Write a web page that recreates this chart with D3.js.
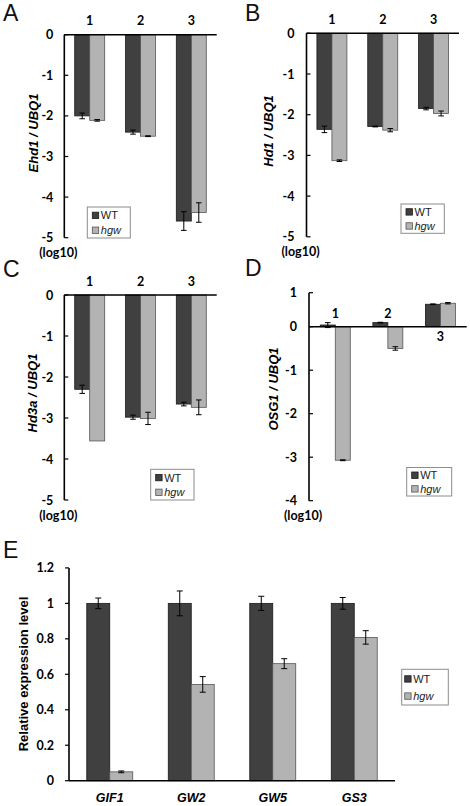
<!DOCTYPE html>
<html><head><meta charset="utf-8">
<script src="https://cdn.jsdelivr.net/npm/d3@7"></script>
<style>body{margin:0;background:#fff}svg{display:block}</style>
</head><body>
<script>
// ---------- data ----------
const timePoints = ["1", "2", "3"];
const ehd1WT = [-2.00, -2.40, -4.59];
const ehd1WTErr = [0.07, 0.05, 0.23];
const ehd1Hgw = [-2.11, -2.50, -4.38];
const ehd1HgwErr = [0.02, 0.01, 0.24];
const hd1WT = [-2.36, -2.29, -1.85];
const hd1WTErr = [0.08, 0.01, 0.03];
const hd1Hgw = [-3.13, -2.38, -1.97];
const hd1HgwErr = [0.02, 0.04, 0.06];
const hd3aWT = [-2.30, -2.98, -2.66];
const hd3aWTErr = [0.10, 0.05, 0.045];
const hd3aHgw = [-3.56, -3.01, -2.74];
const hd3aHgwErr = [0.00, 0.15, 0.18];
const osg1WT = [0.05, 0.12, 0.66];
const osg1WTErr = [0.07, 0.01, 0.01];
const osg1Hgw = [-3.07, -0.50, 0.69];
const osg1HgwErr = [0.01, 0.04, 0.02];
const logTicks = [0, -1, -2, -3, -4, -5];
const osgTicks = [1, 0, -1, -2, -3, -4];
const genes = ["GIF1", "GW2", "GW5", "GS3"];
const geneWT = [1, 1, 1, 1];
const geneWTErr = [0.03, 0.07, 0.04, 0.033];
const geneHgw = [0.05, 0.543, 0.66, 0.808];
const geneHgwErr = [0.005, 0.044, 0.028, 0.038];
const relTicks = [0, 0.2, 0.4, 0.6, 0.8, 1, 1.2];
const seriesNames = ["WT", "hgw"];

// ---------- style ----------
const fill = ["#404040", "#b3b3b3"];
const stroke = ["#1a1a1a", "#555555"];
const numFont = "Lato, 'Open Sans', sans-serif";
const arial = "'Liberation Sans', Arial, sans-serif";

const svg = d3.select("body").append("svg").attr("width", 470).attr("height", 806);

function drawPanel(p) {
  const g = svg.append("g");
  const x = d3.scaleBand().domain(p.cats).range([p.ax, p.axEnd]);
  const y = p.y;
  const bw = x.bandwidth() * p.barFrac;
  const rows = [];
  p.cats.forEach((c, i) => {
    rows.push({cat: c, s: 0, v: p.wt[i], e: p.wtErr[i]});
    rows.push({cat: c, s: 1, v: p.hgw[i], e: p.hgwErr[i]});
  });
  const cx = c => x(c) + x.bandwidth() / 2;
  const bx = d => cx(d.cat) + (d.s === 0 ? -bw : 0);

  g.selectAll("rect.bar").data(rows).join("rect").attr("class", "bar")
    .attr("x", d => bx(d)).attr("width", bw)
    .attr("y", d => Math.min(y(0), y(d.v)))
    .attr("height", d => Math.abs(y(d.v) - y(0)))
    .attr("fill", d => fill[d.s]).attr("stroke", d => stroke[d.s]).attr("stroke-width", 0.8);

  // error bars
  const eb = g.selectAll("g.err").data(rows.filter(d => d.e > 0)).join("g").attr("class", "err")
    .attr("stroke", "#000").attr("stroke-width", 1);
  eb.append("line").attr("x1", d => bx(d) + bw / 2).attr("x2", d => bx(d) + bw / 2)
    .attr("y1", d => y(d.v - d.e)).attr("y2", d => y(d.v + d.e));
  [-1, 1].forEach(k => {
    eb.append("line").attr("x1", d => bx(d) + bw / 2 - p.cap).attr("x2", d => bx(d) + bw / 2 + p.cap)
      .attr("y1", d => y(d.v + k * d.e)).attr("y2", d => y(d.v + k * d.e));
  });

  // axes
  const [dmin, dmax] = d3.extent(p.ticks);
  g.append("line").attr("x1", p.ax).attr("x2", p.ax).attr("y1", y(dmax)).attr("y2", y(dmin))
    .attr("stroke", "#000").attr("stroke-width", 1.6);
  g.append("line").attr("x1", p.ax).attr("x2", p.axEnd).attr("y1", y(0)).attr("y2", y(0))
    .attr("stroke", "#000").attr("stroke-width", 1.6);
  g.selectAll("line.tick").data(p.ticks).join("line").attr("class", "tick")
    .attr("x1", p.ax).attr("x2", p.ax + p.tickDir * 4)
    .attr("y1", d => y(d)).attr("y2", d => y(d)).attr("stroke", "#000").attr("stroke-width", 1.2);
  g.selectAll("text.tl").data(p.ticks).join("text").attr("class", "tl")
    .attr("x", p.ax - p.labelGap).attr("y", d => y(d)).attr("dy", "0.36em")
    .attr("text-anchor", "end").attr("font-family", numFont).attr("font-weight", "bold")
    .attr("font-size", p.tickSize).text(d => p.fmt(d));

  // category labels
  g.selectAll("text.cat").data(p.cats).join("text").attr("class", "cat")
    .attr("x", c => cx(c))
    .attr("y", (c, i) => p.catY(i, y))
    .attr("dy", "0.36em").attr("text-anchor", "middle")
    .attr("font-family", p.catFont).attr("font-weight", "bold")
    .attr("font-style", p.catItalic ? "italic" : "normal")
    .attr("font-size", p.catSize).text(c => c);

  // y title
  g.append("text").attr("transform", `translate(${p.titleX},${p.titleY}) rotate(-90)`)
    .attr("text-anchor", "middle").attr("dy", "0.36em")
    .attr("font-family", arial).attr("font-weight", "bold")
    .attr("font-style", p.titleItalic ? "italic" : "normal")
    .attr("font-size", p.titleSize).text(p.title);

  if (p.logLabel) {
    g.append("text").attr("x", p.ax - 6).attr("y", y(dmin) + 15).attr("dy", "0.36em")
      .attr("text-anchor", "middle").attr("font-family", numFont).attr("font-weight", "bold")
      .attr("font-size", 12.5).text("(log10)");
  }

  // legend
  const L = p.legend;
  const lg = g.append("g");
  lg.append("rect").attr("x", L.x).attr("y", L.y).attr("width", L.w).attr("height", L.h)
    .attr("fill", "#fff").attr("stroke", "#8c8c8c").attr("stroke-width", 1);
  seriesNames.forEach((n, i) => {
    const ry = L.y + L.h * (i === 0 ? 0.27 : 0.75);
    lg.append("rect").attr("x", L.x + L.sw).attr("y", ry - 3.2).attr("width", 6.4).attr("height", 6.4)
      .attr("fill", fill[i]).attr("stroke", stroke[i]).attr("stroke-width", 0.8);
    lg.append("text").attr("x", L.x + L.sw + 8.5).attr("y", ry).attr("dy", "0.36em")
      .attr("font-family", arial).attr("font-size", 11)
      .attr("font-style", i === 1 ? "italic" : "normal").attr("fill", "#222").text(n);
  });

  // panel letter
  svg.append("text").attr("x", p.letter[1]).attr("y", p.letter[2])
    .attr("font-family", arial).attr("font-size", 23).attr("fill", "#111").text(p.letter[0]);
}

const logFmt = d => d === 0 ? "0" : String(d);
const aboveBelow = (wt, hgw) => (i, y) =>
  Math.min(wt[i], hgw[i]) < 0 ? y(0) - 13 : y(0) + 10;

drawPanel({
  cats: timePoints, wt: ehd1WT, wtErr: ehd1WTErr, hgw: ehd1Hgw, hgwErr: ehd1HgwErr,
  ax: 64.3, axEnd: 216.7, y: d3.scaleLinear().domain([-5, 0]).range([237.7, 34.7]),
  barFrac: 0.295, cap: 2.8, ticks: logTicks, fmt: logFmt, tickDir: 1, labelGap: 11, tickSize: 12.5,
  catY: (i, y) => y(0) - 14, catFont: numFont, catSize: 12.5, catItalic: false,
  title: "Ehd1 / UBQ1", titleItalic: true, titleSize: 13, titleX: 33, titleY: 133,
  logLabel: true, legend: {x: 87.3, y: 207, w: 43, h: 31, sw: 5}, letter: ["A", 3, 21]
});
drawPanel({
  cats: timePoints, wt: hd1WT, wtErr: hd1WTErr, hgw: hd1Hgw, hgwErr: hd1HgwErr,
  ax: 306.5, axEnd: 459, y: d3.scaleLinear().domain([-5, 0]).range([236.8, 33.3]),
  barFrac: 0.295, cap: 2.8, ticks: logTicks, fmt: logFmt, tickDir: 1, labelGap: 12, tickSize: 12.5,
  catY: (i, y) => y(0) - 14, catFont: numFont, catSize: 12.5, catItalic: false,
  title: "Hd1 / UBQ1", titleItalic: true, titleSize: 13, titleX: 268, titleY: 131,
  logLabel: true, legend: {x: 401, y: 204, w: 43.3, h: 29.3, sw: 5}, letter: ["B", 245, 21]
});
drawPanel({
  cats: timePoints, wt: hd3aWT, wtErr: hd3aWTErr, hgw: hd3aHgw, hgwErr: hd3aHgwErr,
  ax: 64.3, axEnd: 216.7, y: d3.scaleLinear().domain([-5, 0]).range([500, 295]),
  barFrac: 0.295, cap: 2.8, ticks: logTicks, fmt: logFmt, tickDir: 1, labelGap: 11, tickSize: 12.5,
  catY: (i, y) => y(0) - 14, catFont: numFont, catSize: 12.5, catItalic: false,
  title: "Hd3a / UBQ1", titleItalic: true, titleSize: 13, titleX: 32, titleY: 393,
  logLabel: true, legend: {x: 150.7, y: 469.3, w: 43.3, h: 30.7, sw: 5}, letter: ["C", 3, 277]
});
drawPanel({
  cats: timePoints, wt: osg1WT, wtErr: osg1WTErr, hgw: osg1Hgw, hgwErr: osg1HgwErr,
  ax: 309, axEnd: 466.7, y: d3.scaleLinear().domain([-4, 0, 1]).range([500.7, 326.7, 292.7]),
  barFrac: 0.285, cap: 2.8, ticks: osgTicks, fmt: logFmt, tickDir: 1, labelGap: 12, tickSize: 12.5,
  catY: aboveBelow(osg1WT, osg1Hgw), catFont: numFont, catSize: 12.5, catItalic: false,
  title: "OSG1 / UBQ1", titleItalic: true, titleSize: 13, titleX: 273, titleY: 389,
  logLabel: true, legend: {x: 406.7, y: 467.5, w: 45, h: 28.5, sw: 5}, letter: ["D", 245, 276]
});
drawPanel({
  cats: genes, wt: geneWT, wtErr: geneWTErr, hgw: geneHgw, hgwErr: geneHgwErr,
  ax: 69, axEnd: 395, y: d3.scaleLinear().domain([0, 1.2]).range([780.7, 567.9]),
  barFrac: 0.282, cap: 3, ticks: relTicks, fmt: d => String(d), tickDir: -1, labelGap: 15, tickSize: 12.5,
  catY: (i, y) => y(0) + 17, catFont: arial, catSize: 12.5, catItalic: true,
  title: "Relative expression level", titleItalic: false, titleSize: 13, titleX: 23, titleY: 674,
  logLabel: false, legend: {x: 401.7, y: 669.3, w: 46.6, h: 35.7, sw: 3}, letter: ["E", 3, 558]
});
</script>
</body></html>
